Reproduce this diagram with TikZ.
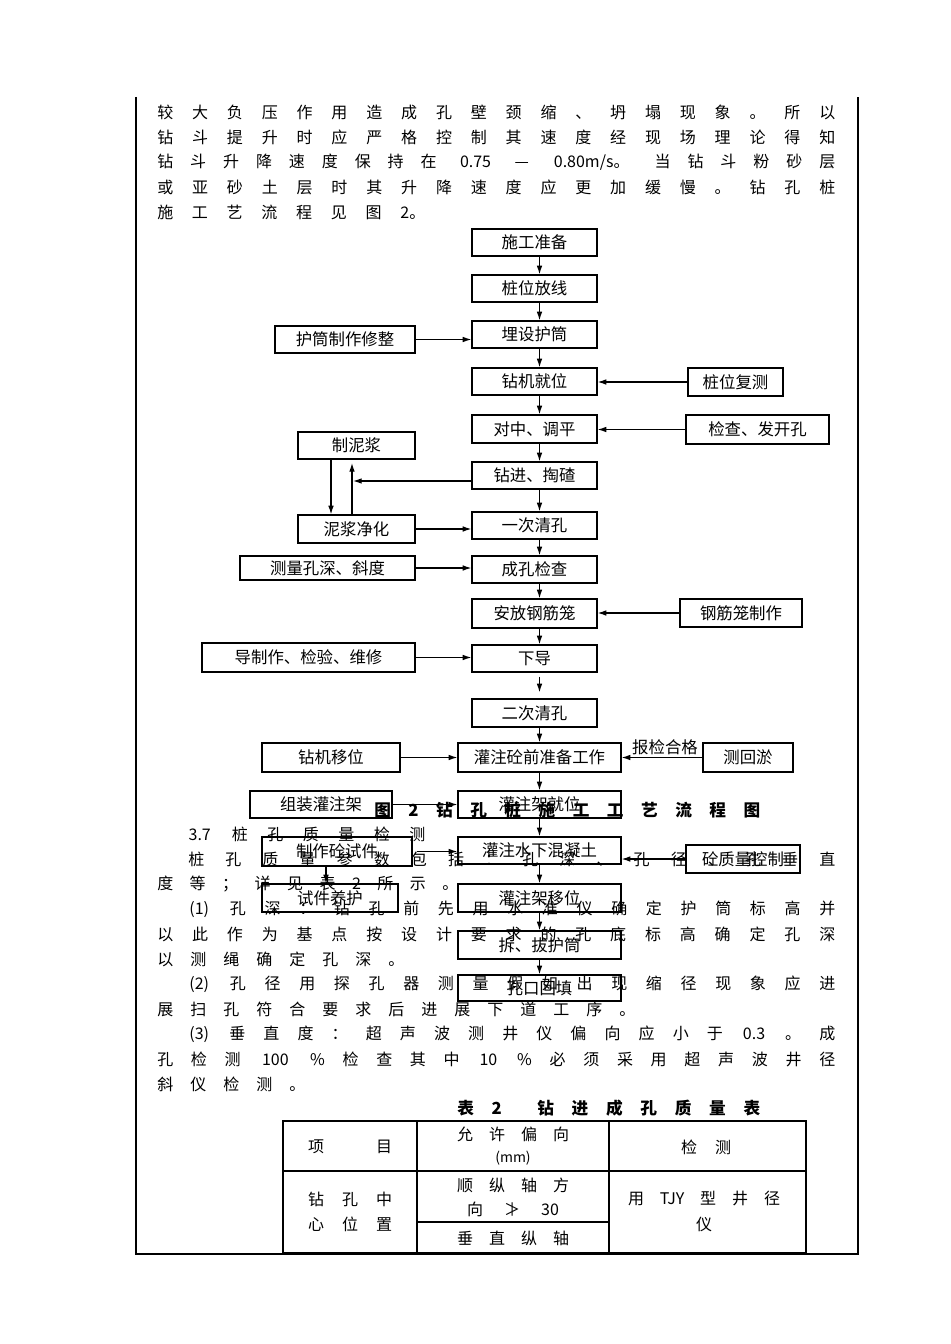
\documentclass[tikz,border=0pt]{standalone}
\usepackage{fontspec}
\setmainfont{Noto Sans CJK SC}
\usetikzlibrary{arrows.meta}
\newcommand\fntbody{\fontsize{12}{14}\selectfont}
\newcommand\fntlbl{\fontsize{12.3}{14}\selectfont}
\newcommand\fntcap{\fontsize{12.5}{14}\selectfont\bfseries}
\newcommand\pxw[1]{\dimexpr #1pt*3/4\relax}
\newcommand\wb[2]{\makebox[\pxw{#1}][c]{#2}}
\newcommand\spr[2]{\makebox[\pxw{#1}][s]{\vphantom{国}#2}}
\newcommand\jl[5]{\node[txt] (#1) at (#2,#3) {\spr{#4}{#5}};}
\newcommand\bx[6]{\node[box,minimum width={(#4-#2)*0.75pt},minimum height={(#5-#3)*0.75pt}] (#1) at ({(#2+#4)/2},{(#3+#5)/2}) {#6};}
\begin{document}
\begin{tikzpicture}[x=0.75pt,y=-0.75pt,
  box/.style={draw,line width=0.9pt,inner sep=0pt,font=\fntlbl},
  arr/.style={-{Latex[length=6.5pt,width=4.2pt]},line width=0.9pt},
  txt/.style={anchor=west,inner sep=0pt,font=\fntbody},
  tc/.style={inner sep=0pt,font=\fntbody},
  framel/.style={line width=2.2pt},
  tbl/.style={line width=0.9pt}]
\fill[white] (0,0) rectangle (950,1344);
\useasboundingbox (0,0) rectangle (950,1344);

% page frame
\draw[framel] (136,97) -- (136,1254) -- (858,1254) -- (858,97);

% body text above the chart
\jl{p1}{157}{112}{678}{较 大 负 压 作 用 造 成 孔 壁 颈 缩 、 坍 塌 现 象 。 所 以}
\jl{p2}{157}{137}{678}{钻 斗 提 升 时 应 严 格 控 制 其 速 度 经 现 场 理 论 得 知}
\jl{p3}{157}{162}{678}{钻 斗 升 降 速 度 保 持 在 \wb{44}{0.75} — \wb{92}{0.80m/s。} 当 钻 斗 粉 砂 层}
\jl{p4}{157}{187}{678}{或 亚 砂 土 层 时 其 升 降 速 度 应 更 加 缓 慢 。 钻 孔 桩}
\jl{p5}{157}{212}{268}{施 工 艺 流 程 见 图 2。}

% main column
\bx{A1}{472}{229}{597}{256}{施工准备}
\bx{A2}{472}{275}{597}{302}{桩位放线}
\bx{A3}{472}{321}{597}{348}{埋设护筒}
\bx{A4}{472}{368}{597}{395}{钻机就位}
\bx{A5}{472}{415}{597}{443}{对中、调平}
\bx{A6}{472}{462}{597}{489}{钻进、掏碴}
\bx{A7}{472}{512}{597}{539}{一次清孔}
\bx{A8}{472}{556}{597}{583}{成孔检查}
\bx{A9}{472}{599}{597}{628}{安放钢筋笼}
\bx{A10}{472}{645}{597}{672}{下导}
\bx{A11}{472}{699}{597}{727}{二次清孔}
\bx{B1}{458}{743}{621}{772}{灌注砼前准备工作}
\bx{B2}{458}{791}{621}{818}{灌注架就位}
\bx{B3}{458}{837}{621}{864}{灌注水下混凝土}
\bx{B4}{458}{884}{621}{912}{灌注架移位}
\bx{B5}{458}{931}{621}{959}{拆、拔护筒}
\bx{B6}{458}{975}{621}{1001}{孔口回填}

% left column
\bx{L1}{275}{326}{415}{353}{护筒制作修整}
\bx{L2}{298}{432}{415}{459}{制泥浆}
\bx{L3}{298}{515}{415}{543}{泥浆净化}
\bx{L4}{240}{556}{415}{580}{测量孔深、斜度}
\bx{L5}{202}{643}{415}{672}{导制作、检验、维修}
\bx{L6}{262}{743}{400}{772}{钻机移位}
\bx{L7}{250}{791}{392}{818}{组装灌注架}
\bx{L8}{262}{837}{412}{866}{制作砼试件}
\bx{L9}{262}{884}{398}{912}{试件养护}

% right column
\bx{R1}{688}{368}{783}{396}{桩位复测}
\bx{R2}{686}{415}{829}{444}{检查、发开孔}
\bx{R3}{680}{599}{802}{627}{钢筋笼制作}
\bx{R4}{703}{743}{793}{772}{测回淤}
\bx{R5}{686}{845}{800}{873}{砼质量控制}
\node[inner sep=0pt,font=\fntlbl] (lbl) at (665,747) {报检合格};

% connectors
\coordinate (colx) at (539.5,0);
\foreach \a/\b in {A1/A2,A2/A3,A3/A4,A4/A5,A5/A6,A6/A7,A7/A8,A8/A9,A9/A10,A11/B1,B1/B2,B2/B3,B3/B4,B4/B5,B5/B6}
  \draw[arr] (\a.south -| colx) -- (\b.north -| colx);
\draw[arr,shorten <=3pt,shorten >=4.5pt] (A10.south -| colx) -- (A11.north -| colx);
\draw[arr] (L1.east) -- (L1.east -| A3.west);
\draw[arr] (R1.west) -- (R1.west -| A4.east);
\draw[arr] (R2.west) -- (R2.west -| A5.east);
\coordinate (m1) at (353,481);
\draw[arr] (A6.west |- m1) -- (m1);
\coordinate (m2) at (352,463);
\draw[arr] (L3.north -| m2) -- (m2);
\coordinate (m3) at (331,0);
\draw[arr] (L2.south -| m3) -- (L3.north -| m3);
\draw[arr] (L3.east) -- (L3.east -| A7.west);
\draw[arr] (L4.east) -- (L4.east -| A8.west);
\draw[arr] (R3.west) -- (R3.west -| A9.east);
\draw[arr] (L5.east) -- (L5.east -| A10.west);
\draw[arr] (L6.east) -- (L6.east -| B1.west);
\draw[arr] (R4.west) -- (R4.west -| B1.east);
\draw[arr] (L7.east) -- (L7.east -| B2.west);
\draw[arr,shorten <=3.5pt] (L8.east) -- (L8.east -| B3.west);
\coordinate (m4) at (326,0);
\draw[arr] (L8.south -| m4) -- (L9.north -| m4);
\draw[arr] (R5.west) -- (R5.west -| B3.east);

% caption and following text (overlapping the chart as in the source)
\node[txt,font=\fntcap] (cap) at (374,810) {\spr{386}{图 2 钻 孔 桩 施 工 工 艺 流 程 图}};
\jl{p6}{187}{834}{238}{\wb{25}{3.7} 桩 孔 质 量 检 测}
\jl{p7}{188}{859}{647}{桩 孔 质 量 参 数 包 括 ： 孔 深 、 孔 径 、 孔 垂 直}
\jl{p8}{157}{884}{301}{度 等 ； 详 见 表 2 所 示 。}
\jl{p9}{187}{909}{648}{\wb{24}{(1)} 孔 深 ： 钻 孔 前 先 用 水 准 仪 确 定 护 筒 标 高 并}
\jl{p10}{157}{934}{678}{以 此 作 为 基 点 按 设 计 要 求 的 孔 底 标 高 确 定 孔 深}
\jl{p11}{157}{959}{247}{以 测 绳 确 定 孔 深 。}
\jl{p12}{187}{984}{648}{\wb{24}{(2)} 孔 径 用 探 孔 器 测 量 假 如 出 现 缩 径 现 象 应 进}
\jl{p13}{157}{1009}{478}{展 扫 孔 符 合 要 求 后 进 展 下 道 工 序 。}
\jl{p14}{187}{1034}{648}{\wb{24}{(3)} 垂 直 度 ： 超 声 波 测 井 仪 偏 向 应 小 于 \wb{26}{0.3} 。 成}
\jl{p15}{157}{1059}{678}{孔 检 测 \wb{34}{100} \% 检 查 其 中 \wb{22}{10} \% 必 须 采 用 超 声 波 井 径}
\jl{p16}{157}{1084}{148}{斜 仪 检 测 。}
\node[txt,font=\fntcap] (ttl) at (457,1108) {\spr{303}{表 2 \hbox{} 钻 进 成 孔 质 量 表}};

% table
\draw[tbl] (283,1121) rectangle (806,1253);
\draw[tbl] (283,1171) -- (806,1171);
\draw[tbl] (417,1121) -- (417,1253);
\draw[tbl] (609,1121) -- (609,1253);
\draw[tbl] (417,1222) -- (609,1222);
\node[tc] (c11) at (350,1147) {\spr{84}{项 目}};
\node[tc] (c12a) at (513,1134) {\spr{112}{允 许 偏 向}};
\node[tc,font=\fontsize{10.5}{12}\selectfont] (c12b) at (513,1158) {(mm)};
\node[tc] (c13) at (706,1147) {\spr{50}{检 测}};
\node[tc] (c21a) at (350,1199) {\spr{84}{钻 孔 中}};
\node[tc] (c21b) at (350,1224) {\spr{84}{心 位 置}};
\node[tc] (c22a) at (513,1185) {\spr{112}{顺 纵 轴 方}};
\node[tc] (c22b) at (513,1209) {\spr{92}{向 ≯ 30}};
\node[tc] (c23) at (513,1238) {\spr{112}{垂 直 纵 轴}};
\node[tc] (c31a) at (704,1199) {\spr{152}{用 TJY 型 井 径}};
\node[tc] (c31b) at (704,1224) {仪};
\end{tikzpicture}
\end{document}
